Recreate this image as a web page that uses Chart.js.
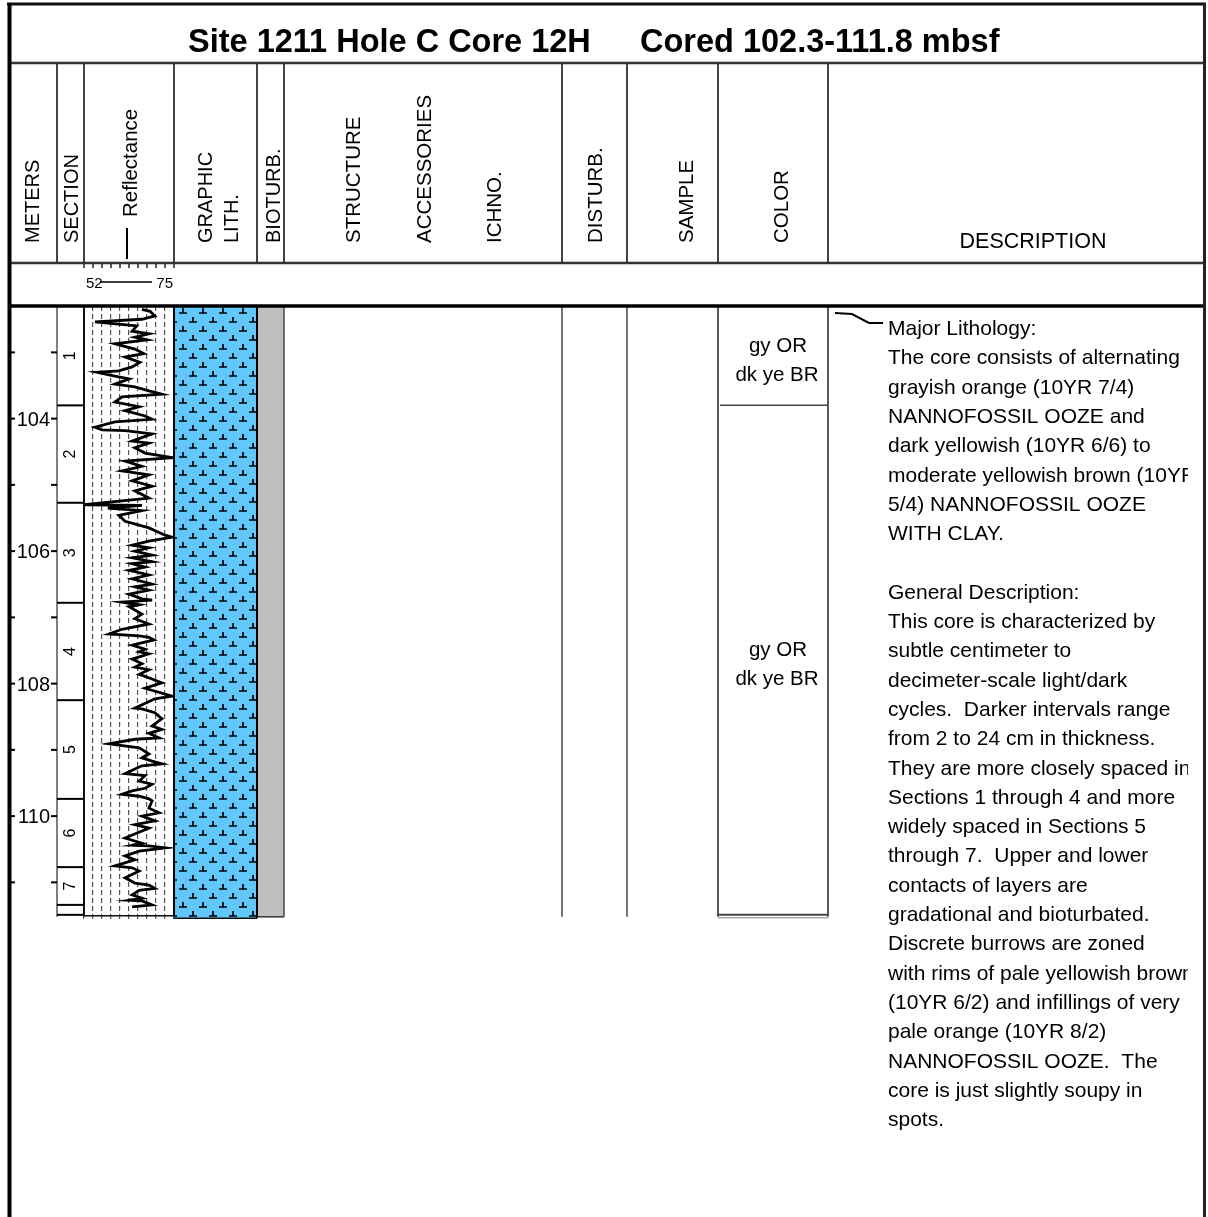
<!DOCTYPE html>
<html>
<head>
<meta charset="utf-8">
<script src="https://cdn.jsdelivr.net/npm/chart.js@4.4.0/dist/chart.umd.min.js"></script>
<style>
  body { margin: 0; background: #fff; }
  canvas { display: block; }
</style>
</head>
<body>
<canvas id="core" width="1208" height="1217"></canvas>
<script>

// ---- data ----

var depth = [
  102.35, 102.38, 102.45, 102.50, 102.54, 102.60, 102.68, 102.72, 102.77, 102.81,
  102.87, 102.95, 103.02, 103.07, 103.15, 103.22, 103.28, 103.30, 103.36, 103.40,
  103.48, 103.52, 103.58, 103.63, 103.67, 103.75, 103.82, 103.88, 103.96, 104.01,
  104.05, 104.13, 104.17, 104.18, 104.23, 104.34, 104.37, 104.44, 104.52, 104.59,
  104.64, 104.72, 104.79, 104.85, 104.94, 105.02, 105.09, 105.20, 105.24, 105.30,
  105.31, 105.35, 105.39, 105.46, 105.55, 105.65, 105.76, 105.79, 105.85, 105.91,
  105.95, 106.00, 106.06, 106.10, 106.16, 106.19, 106.24, 106.29, 106.36, 106.42,
  106.50, 106.54, 106.59, 106.65, 106.72, 106.74, 106.77, 106.81, 106.84, 106.95,
  107.02, 107.10, 107.18, 107.25, 107.28, 107.30, 107.34, 107.42, 107.48, 107.52,
  107.55, 107.63, 107.70, 107.75, 107.79, 107.86, 107.93, 107.99, 108.07, 108.19,
  108.23, 108.37, 108.38, 108.44, 108.53, 108.64, 108.69, 108.75, 108.82, 108.84,
  108.91, 108.97, 109.06, 109.12, 109.17, 109.21, 109.24, 109.29, 109.36, 109.39,
  109.47, 109.52, 109.58, 109.62, 109.67, 109.70, 109.74, 109.77, 109.88, 109.95,
  110.00, 110.07, 110.13, 110.18, 110.33, 110.41, 110.44, 110.45, 110.48, 110.53,
  110.60, 110.66, 110.75, 110.78, 110.83, 110.93, 111.01, 111.04, 111.09, 111.12,
  111.19, 111.24, 111.27, 111.28, 111.34, 111.37
];

var reflectance = [
  66.8, 68.9, 70.1, 66.8, 54.8, 65.5, 64.3, 68.6, 65.0, 68.1,
  59.9, 65.0, 67.3, 62.5, 66.3, 64.3, 60.9, 55.3, 59.9, 63.5,
  59.9, 65.0, 68.6, 71.9, 61.7, 59.9, 66.1, 62.5, 67.6, 69.4,
  59.9, 54.8, 56.6, 62.5, 69.4, 64.3, 68.6, 65.0, 67.6, 74.5,
  62.5, 66.8, 61.7, 68.6, 64.3, 69.4, 65.0, 68.6, 61.7, 52.0,
  66.8, 58.1, 66.8, 60.9, 62.5, 68.6, 72.7, 74.5, 68.6, 64.3,
  68.6, 65.0, 69.4, 64.3, 69.4, 64.3, 67.6, 63.5, 68.6, 64.3,
  69.4, 65.0, 68.6, 63.5, 66.8, 69.4, 61.7, 66.1, 63.5, 66.8,
  65.0, 68.6, 61.7, 58.4, 66.1, 68.6, 69.9, 64.3, 67.6, 66.1,
  68.6, 64.3, 66.8, 65.0, 68.6, 66.1, 69.4, 71.9, 67.6, 74.5,
  70.1, 65.0, 66.8, 70.1, 71.9, 69.4, 71.9, 68.6, 71.2, 65.0,
  58.4, 66.1, 68.6, 66.8, 69.4, 71.9, 66.8, 65.0, 62.5, 67.6,
  66.1, 69.4, 67.6, 64.3, 61.7, 66.1, 68.6, 69.4, 68.6, 71.2,
  66.8, 70.1, 65.0, 68.6, 62.5, 66.8, 64.3, 68.6, 72.7, 66.1,
  62.5, 65.0, 59.9, 64.3, 66.1, 62.5, 65.0, 68.6, 70.1, 66.1,
  64.3, 66.8, 63.5, 66.8, 69.4, 64.3
];

var reflTicks = [52, 54.3, 56.6, 58.9, 61.2, 63.5, 65.8, 68.1, 70.4, 72.7, 75];
var reflRange = [52, 75];

var depthRange = [102.3, 111.55];
var meterTicks = [103, 104, 105, 106, 107, 108, 109, 110, 111];

var sectionNames = ['1', '2', '3', '4', '5', '6', '7', ''];
var sectionTop  = [102.3, 103.8, 105.27, 106.78, 108.25, 109.74, 110.77, 111.34];
var sectionBase = [103.8, 105.27, 106.78, 108.25, 109.74, 110.77, 111.34, 111.49];

var coreBase = 111.52;
var lithTop = 102.3;
var lithBase = 111.54;

var colorTop  = [102.3, 103.8];
var colorBase = [103.8, 111.49];
var colorNames = [['gy OR', 'dk ye BR'], ['gy OR', 'dk ye BR']];

var titleLeft = 'Site 1211 Hole C Core 12H';
var titleRight = 'Cored 102.3-111.8 mbsf';

var descLines = [
  'Major Lithology:',
  'The core consists of alternating',
  'grayish orange (10YR 7/4)',
  'NANNOFOSSIL OOZE and',
  'dark yellowish (10YR 6/6) to',
  'moderate yellowish brown (10YR',
  '5/4) NANNOFOSSIL OOZE',
  'WITH CLAY.',
  '',
  'General Description:',
  'This core is characterized by',
  'subtle centimeter to',
  'decimeter-scale light/dark',
  'cycles.  Darker intervals range',
  'from 2 to 24 cm in thickness.',
  'They are more closely spaced in',
  'Sections 1 through 4 and more',
  'widely spaced in Sections 5',
  'through 7.  Upper and lower',
  'contacts of layers are',
  'gradational and bioturbated.',
  'Discrete burrows are zoned',
  'with rims of pale yellowish brown',
  '(10YR 6/2) and infillings of very',
  'pale orange (10YR 8/2)',
  'NANNOFOSSIL OOZE.  The',
  'core is just slightly soupy in',
  'spots.'
];

// ---- drawing ----

var FONT = '"Liberation Sans", Arial, Helvetica, sans-serif';

var HEAD_TOP = 63, HEAD_BOT = 263, DATA_TOP = 306;
var COLS = [57, 84, 174, 257, 284, 562, 627, 718, 828];

function line(ctx, x1, y1, x2, y2, w, col) {
    ctx.save();
    ctx.beginPath();
    ctx.lineWidth = w;
    ctx.strokeStyle = col;
    ctx.moveTo(x1, y1);
    ctx.lineTo(x2, y2);
    ctx.stroke();
    ctx.restore();
} // line

function vtext(ctx, txt, cx, bottom, size) {
    // text turned to read bottom -> top, ending at "bottom"
    ctx.save();
    ctx.translate(cx + size * 0.36, bottom);
    ctx.rotate(-Math.PI / 2);
    ctx.font = size + 'px ' + FONT;
    ctx.fillStyle = '#000';
    ctx.textAlign = 'left';
    ctx.textBaseline = 'alphabetic';
    ctx.fillText(txt, 0, 0);
    ctx.restore();
} // vtext

function lithPattern(ctx) {
    var t = document.createElement('canvas');
    t.width = 20; t.height = 18;
    var c = t.getContext('2d');
    c.fillStyle = '#62c8fc';
    c.fillRect(0, 0, 20, 18);
    c.strokeStyle = '#000';
    c.lineWidth = 1.7;
    function sym(x, y) {
        c.beginPath();
        c.moveTo(x - 4, y); c.lineTo(x + 4, y);
        c.moveTo(x, y); c.lineTo(x, y - 5);
        c.stroke();
    }
    sym(6, 7);
    sym(16, 16);
    return ctx.createPattern(t, 'repeat');
} // lith pattern

var sheetPlugin = {
    id: 'sheet',

    beforeDraw: function(chart) {
        var ctx = chart.ctx;
        var y = chart.scales.y;
        ctx.save();
        ctx.fillStyle = '#fff';
        ctx.fillRect(0, 0, chart.width, chart.height);

        // graphic lithology
        var t = y.getPixelForValue(lithTop), b = y.getPixelForValue(lithBase);
        ctx.translate(177, DATA_TOP);
        ctx.fillStyle = lithPattern(ctx);
        ctx.fillRect(174 - 177, t - DATA_TOP, 257 - 174, b - t);
        ctx.restore();

        // bioturbation column
        ctx.fillStyle = '#bfbfbf';
        ctx.fillRect(257, t, 284 - 257, y.getPixelForValue(coreBase) - t);
    },

    afterDraw: function(chart) {
        var ctx = chart.ctx;
        var y = chart.scales.y;
        var x = chart.scales.x;
        var bot = y.getPixelForValue(coreBase);
        var i, j;

        // title
        ctx.fillStyle = '#000';
        ctx.font = 'bold 32.5px ' + FONT;
        ctx.textBaseline = 'alphabetic';
        ctx.textAlign = 'left';
        ctx.fillText(titleLeft, 188, 52);
        ctx.fillText(titleRight, 640, 52);

        // header texts
        vtext(ctx, 'METERS', 32, 243, 20);
        vtext(ctx, 'SECTION', 71, 243, 20);
        vtext(ctx, 'Reflectance', 130, 217, 20.5);
        line(ctx, 127, 228, 127, 259, 2, '#000');
        vtext(ctx, 'GRAPHIC', 205, 243, 20);
        vtext(ctx, 'LITH.', 231, 243, 20);
        vtext(ctx, 'BIOTURB.', 273, 243, 20);
        vtext(ctx, 'STRUCTURE', 353, 243, 20.5);
        vtext(ctx, 'ACCESSORIES', 424, 243, 20.5);
        vtext(ctx, 'ICHNO.', 494, 243, 20.5);
        vtext(ctx, 'DISTURB.', 595, 243, 20.5);
        vtext(ctx, 'SAMPLE', 686, 243, 20.5);
        vtext(ctx, 'COLOR', 781, 243, 20.5);
        ctx.font = '21.5px ' + FONT;
        ctx.textAlign = 'center';
        ctx.fillText('DESCRIPTION', 1033, 248);

        // header column lines
        for (i = 0; i < COLS.length; i++)
            line(ctx, COLS[i], HEAD_TOP, COLS[i], HEAD_BOT, 2, '#444');

        // reflectance scale row
        for (i = 0; i < reflTicks.length; i++) {
            var tx = x.getPixelForValue(reflTicks[i]);
            line(ctx, tx, HEAD_BOT, tx, HEAD_BOT + 5, 1.5, '#222');
        }
        ctx.font = '15px ' + FONT;
        ctx.textAlign = 'left';
        ctx.fillText(String(reflRange[0]), x.getPixelForValue(reflRange[0]) + 2, 288);
        ctx.textAlign = 'right';
        ctx.fillText(String(reflRange[1]), x.getPixelForValue(reflRange[1]) - 1, 288);
        line(ctx, 100, 282, 152, 282, 1.5, '#000');

        // data column lines
        line(ctx, 57, DATA_TOP, 57, bot, 1.5, '#555');
        line(ctx, 84, DATA_TOP, 84, bot, 2, '#111');
        line(ctx, 174, DATA_TOP, 174, bot, 2, '#000');
        line(ctx, 257, DATA_TOP, 257, y.getPixelForValue(lithBase), 2, '#000');
        line(ctx, 284, DATA_TOP, 284, bot, 1.5, '#444');
        line(ctx, 562, DATA_TOP, 562, bot, 1.5, '#444');
        line(ctx, 627, DATA_TOP, 627, bot, 1.5, '#444');
        line(ctx, 718, DATA_TOP, 718, bot, 1.5, '#222');
        line(ctx, 828, DATA_TOP, 828, bot, 1.5, '#222');
        line(ctx, 84, bot - 1, 174, bot - 1, 1.5, '#111');
        line(ctx, 174, y.getPixelForValue(lithBase), 257, y.getPixelForValue(lithBase), 1.5, '#111');
        line(ctx, 257, bot, 284, bot, 1.5, '#333');

        // meters
        ctx.font = '20px ' + FONT;
        ctx.textAlign = 'right';
        for (i = 0; i < meterTicks.length; i++) {
            var my = y.getPixelForValue(meterTicks[i]);
            line(ctx, 11, my, 15, my, 2, '#000');
            line(ctx, 51, my, 57, my, 2, '#000');
            if (meterTicks[i] % 2 == 0)
                ctx.fillText(String(meterTicks[i]), 50, my + 7);
        }

        // sections
        for (i = 0; i < sectionTop.length; i++) {
            var st = y.getPixelForValue(sectionTop[i]);
            var sb = y.getPixelForValue(sectionBase[i]);
            line(ctx, 57, sb, 84, sb, 2, '#000');
            if (sectionNames[i]) {
                ctx.save();
                ctx.translate(71, (st + sb) / 2);
                ctx.rotate(-Math.PI / 2);
                ctx.font = '16px ' + FONT;
                ctx.textAlign = 'center';
                ctx.textBaseline = 'middle';
                ctx.fillText(sectionNames[i], 0, 0);
                ctx.restore();
            }
        }

        // color column
        ctx.font = '20.5px ' + FONT;
        ctx.textAlign = 'center';
        for (i = 0; i < colorTop.length; i++) {
            var ct = y.getPixelForValue(colorTop[i]);
            var cb = y.getPixelForValue(colorBase[i]);
            var mid = (ct + cb) / 2;
            ctx.fillText(colorNames[i][0], 778, mid - 4);
            ctx.fillText(colorNames[i][1], 777, mid + 25);
            if (i < colorTop.length - 1)
                line(ctx, 720, cb, 828, cb, 1.5, '#444');
        }
        line(ctx, 718, bot - 2, 828, bot - 2, 2, '#444');
        line(ctx, 718, bot + 1, 828, bot + 1, 1.5, '#aaa');

        // description, cut off at the text box edge like the sheet
        ctx.save();
        ctx.beginPath();
        ctx.rect(829, DATA_TOP, 1188 - 829, 900);
        ctx.clip();
        ctx.font = '21px ' + FONT;
        ctx.textAlign = 'left';
        for (j = 0; j < descLines.length; j++)
            ctx.fillText(descLines[j], 888, 335 + j * 29.3);
        ctx.restore();

        ctx.save();
        ctx.beginPath();
        ctx.lineWidth = 2;
        ctx.strokeStyle = '#000';
        ctx.moveTo(835, 313); ctx.lineTo(852, 314); ctx.lineTo(869, 323); ctx.lineTo(883, 323);
        ctx.stroke();
        ctx.restore();

        // frame and row lines
        line(ctx, 9, HEAD_TOP, 1205, HEAD_TOP, 2.5, '#333');
        line(ctx, 9, HEAD_BOT, 1205, HEAD_BOT, 2.5, '#333');
        line(ctx, 9, DATA_TOP, 1205, DATA_TOP, 3.5, '#000');
        line(ctx, 7, 4, 1206, 4, 3, '#111');
        line(ctx, 9.5, 3, 9.5, 1217, 4, '#000');
        line(ctx, 1204.5, 3, 1204.5, 1217, 3, '#222');
    }
}; // sheet plugin

var points = [];
for (var k = 0; k < depth.length; k++)
    points.push({ x: reflectance[k], y: depth[k] });

new Chart(document.getElementById('core'), {
    type: 'scatter',
    data: {
        datasets: [{
            data: points,
            showLine: true,
            borderColor: '#000',
            borderWidth: 2.8,
            pointRadius: 0,
            tension: 0
        }]
    },
    options: {
        responsive: false,
        animation: false,
        events: [],
        layout: { padding: { left: 84, right: 1208 - 174, top: DATA_TOP, bottom: 1217 - 918.8 } },
        plugins: { legend: { display: false }, tooltip: { enabled: false } },
        scales: {
            x: {
                type: 'linear',
                min: reflRange[0],
                max: reflRange[1],
                afterBuildTicks: function(s) {
                    s.ticks = reflTicks.map(function(v) { return { value: v }; });
                },
                ticks: { display: false },
                grid: { color: '#555', lineWidth: 1.2, drawTicks: false },
                border: { display: false, dash: [5, 3] }
            },
            y: {
                type: 'linear',
                reverse: true,
                min: depthRange[0],
                max: depthRange[1],
                display: false
            }
        }
    },
    plugins: [sheetPlugin]
});

</script>
</body>
</html>
